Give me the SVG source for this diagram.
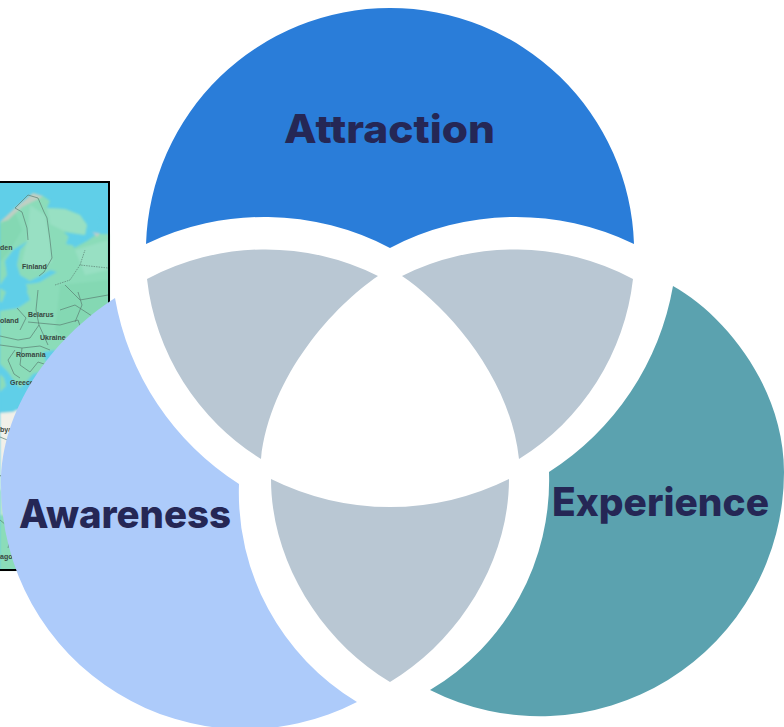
<svg xmlns="http://www.w3.org/2000/svg" width="784" height="727" viewBox="0 0 784 727">
<defs><filter id="soft" x="-5%" y="-5%" width="110%" height="110%"><feGaussianBlur stdDeviation="0.8"/></filter></defs>
<style>
.gray{fill:#b9c7d3}
.lbl{font-family:Inter,"Liberation Sans",sans-serif;font-weight:800;font-size:39px;fill:#252755}
.m{font-family:"Liberation Sans",sans-serif;font-size:7px;fill:#38453f;font-weight:bold}
.b{fill:none;stroke:#5a7f72;stroke-width:.7}
.sea{fill:#60cfe8}
</style>
<rect width="784" height="727" fill="#fff"/>
<g id="map">
<rect x="-2" y="182" width="111" height="388" class="sea"/>
<g filter="url(#soft)">
<path fill="#8bdcb9" d="M0 222L15 208L33 193L43 196L50 201L47 208L65 209L80 215L87 225L85 235L70 233L64 232L72 240L74 248L87 241L97 234L109 234V570H0Z"/>
<path fill="#98e0c3" d="M47 208L65 209L80 215L87 225L85 235L64 231L50 224ZM30 205L45 215L50 240L52 262L35 270L22 262L27 240ZM75 250L108 240V270L85 275Z"/>
<path fill="#84d8b3" d="M60 285L108 280V340L80 355L55 330ZM0 225L15 212L22 230L10 250L0 262Z"/>
<path fill="#d9c9c9" opacity=".7" d="M0 222L15 208L33 193L43 196L38 199L22 207L8 220ZM92 232L100 233L97 237Z"/>
<path class="sea" d="M28 241L20 250L17 265L20 275L30 281L40 276L50 270L57 272L50 276L40 282L28 285L27 292L30 300L18 308L0 311V285L7 275L5 261L13 250Z"/>
<path class="sea" d="M70 233L82 236L76 246L66 244Z"/>
<path class="sea" d="M99 218L106 222L108 230H100Z"/>
<path class="sea" d="M43 352L55 350L58 365L46 362Z"/>
<path fill="#8bdcb9" d="M0 288L6 292L2 302L0 302ZM26 284L40 283L36 290L28 290Z"/>
<path class="sea" d="M0 364L8 372L14 381L20 388L28 380L33 374L40 372L50 368V400L45 405L30 412L17 410L13 412L0 413Z"/>
<path fill="#8bdcb9" d="M0 374L4 378L6 386L0 392Z"/>
<path fill="#f1f0e9" d="M0 413L13 412L17 410L30 412L45 405L60 400V520H0Z"/>
<path fill="#bfe7cf" d="M0 490H60V530H0Z"/>
<path fill="#8bdcb9" d="M0 515H60V570H0Z"/>
</g>
<path class="b" d="M15 208L22 212L27 228L28 240M15 208L28 195L38 198L44 212L47 218L50 240L52 258L44 272L39 276M38 290L36 310L39 325L30 338L18 340L0 336M17 308L26 318L20 330M28 322L60 325L78 320L85 340M39 325L48 345M0 345L22 348L40 346L50 350M15 350L8 360L14 374M22 348L20 365L30 372M30 372L38 362L47 365M14 374L20 378M65 285L80 300L108 295M60 310L75 305L95 318L108 310M75 322L82 305L78 292M95 318L90 335M0 437L22 446M0 475L8 485L12 505M0 520L12 530L8 548"/>
<path class="b" stroke-dasharray="1.5 1" d="M55 285L70 280L80 265L108 268M80 265L85 250"/>
<text class="m" x="0" y="250">den</text>
<text class="m" x="22" y="269">Finland</text>
<text class="m" x="0" y="322.500">oland</text>
<text class="m" x="28" y="317">Belarus</text>
<text class="m" x="40" y="339.500">Ukraine</text>
<text class="m" x="16" y="357">Romania</text>
<text class="m" x="10" y="385">Greece</text>
<text class="m" x="0" y="431.500">bya</text>
<text class="m" x="0" y="559">ago</text>
<rect x="-2" y="182" width="111" height="388" fill="none" stroke="#000" stroke-width="2"/>
</g>
<g id="attraction">
<path d="M146 244A244 244 0 0 1 390 8A244 244 0 0 1 634 244A271 271 0 0 0 390 248A271 271 0 0 0 146 244Z" fill="#2a7dd9"/>
<text class="lbl" x="284" y="143" textLength="211" lengthAdjust="spacingAndGlyphs">Attraction</text>
</g>
<g id="experience">
<path d="M673 286C722 313 784 385 784 472A244 244 0 0 1 430 690A244 244 0 0 0 549 472A277 277 0 0 0 673 286Z" fill="#5ba2af"/>
<text class="lbl" x="552" y="516" textLength="217" lengthAdjust="spacingAndGlyphs">Experience</text>
</g>
<g id="awareness">
<path d="M115 298C50 340 1 410 1 484A244 244 0 0 0 357 702A244 244 0 0 1 239 484A277 277 0 0 1 115 298Z" fill="#adcbfa"/>
<text class="lbl" x="19" y="528" textLength="212" lengthAdjust="spacingAndGlyphs">Awareness</text>
</g>
<g id="overlap-left"><path class="gray" d="M147 279A252 252 0 0 1 378 276C335 305 270 375 261 459A244 244 0 0 1 147 279Z"/></g>
<g id="overlap-right"><path class="gray" d="M633 279A252 252 0 0 0 402 276C445 305 510 375 519 459A244 244 0 0 0 633 279Z"/></g>
<g id="overlap-bottom"><path class="gray" d="M271 479A267 267 0 0 0 509 479C509 560 460 640 390 682C320 640 271 560 271 479Z"/></g>
<g id="connectors"/>
</svg>
